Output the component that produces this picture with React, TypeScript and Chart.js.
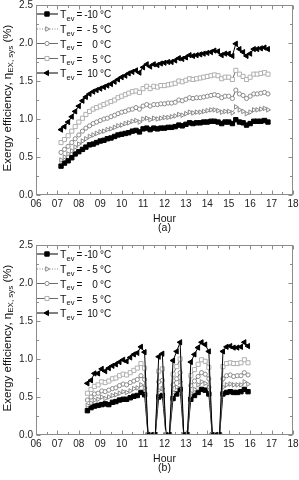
import React, { useEffect, useRef } from 'react';
import { Chart, registerables } from 'chart.js';
import { drawPoint } from 'chart.js/helpers';

Chart.register(...registerables);

const FONT = '"Liberation Sans", Arial, sans-serif';

const xTickLabels = ['06', '07', '08', '09', '10', '11', '12', '13', '14', '15', '16', '17', '18'];
const yTickLabels = ['0.0', '0.5', '1.0', '1.5', '2.0', '2.5'];
const legendValues = ['-10', '- 5', '0', '5', '10'];

// Panel (a)
const timesA = [7.17, 7.33, 7.5, 7.67, 7.83, 8.0, 8.17, 8.33, 8.5, 8.67, 8.83, 9.0, 9.17, 9.33, 9.5, 9.67, 9.83, 10.0, 10.17, 10.33, 10.5, 10.67, 10.83, 11.0, 11.17, 11.33, 11.5, 11.67, 11.83, 12.0, 12.17, 12.33, 12.5, 12.67, 12.83, 13.0, 13.17, 13.33, 13.5, 13.67, 13.83, 14.0, 14.17, 14.33, 14.5, 14.67, 14.83, 15.0, 15.17, 15.33, 15.5, 15.67, 15.83, 16.0, 16.17, 16.33, 16.5, 16.67, 16.83];
const effA_m10 = [0.38, 0.42, 0.45, 0.49, 0.54, 0.57, 0.6, 0.63, 0.66, 0.67, 0.69, 0.71, 0.72, 0.74, 0.75, 0.77, 0.79, 0.8, 0.81, 0.82, 0.84, 0.85, 0.83, 0.87, 0.88, 0.86, 0.88, 0.87, 0.88, 0.88, 0.89, 0.89, 0.9, 0.92, 0.91, 0.93, 0.95, 0.94, 0.95, 0.95, 0.96, 0.96, 0.97, 0.97, 0.96, 0.94, 0.96, 0.96, 0.94, 0.99, 0.96, 0.95, 0.92, 0.94, 0.97, 0.97, 0.97, 0.98, 0.96];
const effA_m5 = [0.46, 0.5, 0.54, 0.58, 0.63, 0.67, 0.71, 0.74, 0.77, 0.79, 0.81, 0.83, 0.84, 0.86, 0.87, 0.89, 0.91, 0.92, 0.94, 0.95, 0.97, 0.98, 0.96, 1.0, 1.01, 0.99, 1.01, 1.0, 1.01, 1.02, 1.02, 1.03, 1.04, 1.06, 1.05, 1.07, 1.09, 1.08, 1.09, 1.09, 1.1, 1.11, 1.12, 1.12, 1.11, 1.09, 1.1, 1.1, 1.08, 1.16, 1.12, 1.1, 1.07, 1.09, 1.12, 1.12, 1.13, 1.14, 1.12];
const effA_0 = [0.56, 0.6, 0.64, 0.69, 0.74, 0.79, 0.84, 0.88, 0.91, 0.94, 0.96, 0.98, 1.0, 1.01, 1.03, 1.05, 1.07, 1.09, 1.1, 1.12, 1.13, 1.15, 1.13, 1.17, 1.19, 1.17, 1.19, 1.19, 1.2, 1.2, 1.21, 1.21, 1.22, 1.25, 1.24, 1.26, 1.28, 1.27, 1.28, 1.28, 1.29, 1.3, 1.31, 1.32, 1.31, 1.28, 1.3, 1.3, 1.27, 1.38, 1.33, 1.31, 1.27, 1.3, 1.33, 1.33, 1.34, 1.35, 1.33];
const effA_p5 = [0.69, 0.73, 0.78, 0.84, 0.9, 0.96, 1.01, 1.06, 1.1, 1.13, 1.15, 1.17, 1.19, 1.21, 1.23, 1.25, 1.28, 1.3, 1.32, 1.34, 1.36, 1.37, 1.35, 1.4, 1.43, 1.4, 1.43, 1.42, 1.44, 1.44, 1.45, 1.46, 1.47, 1.5, 1.49, 1.51, 1.53, 1.52, 1.53, 1.54, 1.55, 1.56, 1.57, 1.58, 1.57, 1.53, 1.55, 1.55, 1.52, 1.64, 1.59, 1.56, 1.52, 1.55, 1.59, 1.59, 1.6, 1.61, 1.59];
const effA_p10 = [0.86, 0.9, 0.96, 1.03, 1.1, 1.17, 1.24, 1.29, 1.33, 1.36, 1.38, 1.4, 1.42, 1.44, 1.46, 1.49, 1.52, 1.55, 1.57, 1.6, 1.62, 1.64, 1.61, 1.68, 1.72, 1.69, 1.72, 1.71, 1.73, 1.74, 1.75, 1.75, 1.77, 1.8, 1.79, 1.81, 1.84, 1.83, 1.84, 1.85, 1.86, 1.87, 1.88, 1.9, 1.89, 1.84, 1.86, 1.86, 1.83, 1.99, 1.92, 1.88, 1.83, 1.86, 1.92, 1.92, 1.93, 1.94, 1.92];

// Panel (b)
const timesB = [8.4, 8.57, 8.73, 8.9, 9.07, 9.23, 9.4, 9.57, 9.73, 9.9, 10.07, 10.23, 10.4, 10.57, 10.73, 10.9, 11.07, 11.23, 11.4, 11.57, 11.73, 11.9, 12.07, 12.23, 12.4, 12.57, 12.73, 12.9, 13.07, 13.23, 13.4, 13.57, 13.73, 13.9, 14.07, 14.23, 14.4, 14.57, 14.73, 14.9, 15.07, 15.23, 15.4, 15.57, 15.73, 15.9];
const effB_m10 = [0.32, 0.36, 0.38, 0.39, 0.4, 0.41, 0.4, 0.43, 0.44, 0.46, 0.47, 0.47, 0.49, 0.51, 0.52, 0.56, 0.53, 0, 0, 0, 0.5, 0.52, 0, 0, 0.48, 0.54, 0.6, 0, 0, 0.47, 0.52, 0.56, 0.6, 0.59, 0.54, 0, 0, 0, 0.54, 0.56, 0.57, 0.56, 0.56, 0.57, 0.6, 0.57];
const effB_m5 = [0.39, 0.42, 0.46, 0.47, 0.5, 0.48, 0.5, 0.52, 0.53, 0.55, 0.57, 0.56, 0.58, 0.61, 0.62, 0.66, 0.62, 0, 0, 0, 0.59, 0.61, 0, 0, 0.56, 0.63, 0.7, 0, 0, 0.55, 0.6, 0.66, 0.7, 0.68, 0.63, 0, 0, 0, 0.63, 0.66, 0.67, 0.66, 0.66, 0.66, 0.7, 0.67];
const effB_0 = [0.46, 0.5, 0.54, 0.55, 0.58, 0.57, 0.59, 0.61, 0.62, 0.65, 0.67, 0.66, 0.69, 0.71, 0.73, 0.78, 0.73, 0, 0, 0, 0.7, 0.72, 0, 0, 0.66, 0.74, 0.82, 0, 0, 0.65, 0.71, 0.77, 0.82, 0.8, 0.74, 0, 0, 0, 0.74, 0.78, 0.79, 0.77, 0.78, 0.78, 0.82, 0.79];
const effB_p5 = [0.55, 0.6, 0.64, 0.66, 0.7, 0.69, 0.71, 0.74, 0.75, 0.78, 0.8, 0.79, 0.82, 0.85, 0.88, 0.94, 0.88, 0, 0, 0, 0.84, 0.87, 0, 0, 0.8, 0.9, 1.0, 0, 0, 0.78, 0.86, 0.93, 0.99, 0.97, 0.89, 0, 0, 0, 0.9, 0.94, 0.95, 0.94, 0.94, 0.95, 0.99, 0.95];
const effB_p10 = [0.68, 0.72, 0.81, 0.81, 0.87, 0.84, 0.88, 0.91, 0.93, 0.96, 0.99, 0.97, 1.02, 1.06, 1.08, 1.16, 1.09, 0, 0, 0, 1.03, 1.07, 0, 0, 0.98, 1.1, 1.22, 0, 0, 0.96, 1.06, 1.15, 1.22, 1.19, 1.1, 0, 0, 0, 1.1, 1.16, 1.17, 1.15, 1.15, 1.16, 1.22, 1.17];

type Style = {
  line: string; dash: number[]; pointStyle: string; radius: number; rotation: number;
  fill: string; border: string;
};
const styles: Style[] = [
  { line: '#000', dash: [], pointStyle: 'rect', radius: 3.1, rotation: 0, fill: '#000', border: '#000' },
  { line: '#8a8a8a', dash: [1, 1.5], pointStyle: 'triangle', radius: 2.6, rotation: 90, fill: '#fff', border: '#8a8a8a' },
  { line: '#6a6a6a', dash: [], pointStyle: 'circle', radius: 2.1, rotation: 0, fill: '#fff', border: '#8a8a8a' },
  { line: '#6a6a6a', dash: [], pointStyle: 'rect', radius: 2.9, rotation: 0, fill: '#fff', border: '#b0b0b0' },
  { line: '#000', dash: [], pointStyle: 'triangle', radius: 3.0, rotation: -90, fill: '#000', border: '#000' },
];

function framePlugin(panel: string) {
  return {
    id: 'frameDeco',
    afterDraw(chart: any) {
      const { ctx, chartArea: a, scales } = chart;
      const xs = scales.x, ys = scales.y;
      ctx.save();
      ctx.strokeStyle = '#8c8c8c';
      ctx.lineWidth = 1;
      const L = Math.round(a.left) + 0.5, R = Math.round(a.right) - 0.5;
      const T = Math.round(a.top) + 0.5, B = Math.round(a.bottom) - 0.5;
      ctx.strokeRect(L, T, R - L, B - T);
      ctx.beginPath();
      for (let i = 12; i <= 36; i++) {
        const px = Math.round(xs.getPixelForValue(i / 2)) + 0.5;
        const len = i % 2 === 0 ? 4 : 2.5;
        ctx.moveTo(px, B); ctx.lineTo(px, B - len);
        ctx.moveTo(px, T); ctx.lineTo(px, T + len);
      }
      for (let j = 0; j <= 10; j++) {
        const py = Math.round(ys.getPixelForValue(j / 4)) + 0.5;
        const len = j % 2 === 0 ? 4 : 2.5;
        ctx.moveTo(L, py); ctx.lineTo(L + len, py);
        ctx.moveTo(R, py); ctx.lineTo(R - len, py);
      }
      ctx.stroke();

      // tick labels (values come from the scales)
      ctx.fillStyle = '#222';
      ctx.font = `10px ${FONT}`;
      ctx.textBaseline = 'middle';
      ctx.textAlign = 'center';
      xs.ticks.forEach((t: any) => {
        const lbl = xTickLabels[Math.round(t.value) - 6];
        if (lbl) ctx.fillText(lbl, xs.getPixelForValue(t.value), a.bottom + 9);
      });
      ctx.textAlign = 'right';
      ys.ticks.forEach((t: any) => {
        const lbl = yTickLabels[Math.round(t.value * 2)];
        if (lbl) ctx.fillText(lbl, a.left - 3, ys.getPixelForValue(t.value) + 0.5);
      });

      // x title and panel label
      ctx.fillStyle = '#111';
      ctx.textAlign = 'center';
      ctx.textBaseline = 'middle';
      ctx.font = `10.5px ${FONT}`;
      const cx = (a.left + a.right) / 2;
      ctx.fillText('Hour', cx, 219);
      ctx.fillText(panel, cx, 228.5);

      // y title with subscript
      const main1 = 'Exergy efficiency, \u03B7';
      const sub = 'EX, sys';
      const main2 = ' (%)';
      const fMain = `11.5px ${FONT}`;
      const fSub = `8px ${FONT}`;
      ctx.font = fMain;
      const w1 = ctx.measureText(main1).width;
      const w3 = ctx.measureText(main2).width;
      ctx.font = fSub;
      const w2 = ctx.measureText(sub).width;
      const total = w1 + w2 + w3;
      ctx.translate(6.5, (a.top + a.bottom) / 2 - 2);
      ctx.rotate(-Math.PI / 2);
      ctx.textAlign = 'left';
      ctx.textBaseline = 'alphabetic';
      let sx = -total / 2;
      ctx.font = fMain;
      ctx.fillText(main1, sx, 4);
      sx += w1;
      ctx.font = fSub;
      ctx.fillText(sub, sx, 6.5);
      sx += w2;
      ctx.font = fMain;
      ctx.fillText(main2, sx, 4);
      ctx.setTransform(1, 0, 0, 1, 0, 0);

      // legend
      const rows = [14, 29, 43.5, 58.5, 73];
      rows.forEach((ry, k) => {
        const st = styles[k];
        ctx.strokeStyle = st.line;
        ctx.lineWidth = 1;
        ctx.setLineDash(st.dash);
        ctx.beginPath();
        ctx.moveTo(a.left + 1, ry); ctx.lineTo(58, ry);
        ctx.stroke();
        ctx.setLineDash([]);
        ctx.fillStyle = st.fill;
        ctx.strokeStyle = st.border;
        ctx.lineWidth = 1;
        drawPoint(ctx, { pointStyle: st.pointStyle as any, radius: st.radius, rotation: st.rotation, borderWidth: 1 }, 47, ry);
        ctx.fillStyle = '#111';
        ctx.textBaseline = 'alphabetic';
        ctx.textAlign = 'left';
        ctx.font = `10.5px ${FONT}`;
        ctx.fillText('T', 60, ry + 4);
        ctx.font = `7.5px ${FONT}`;
        ctx.fillText('ev', 66.5, ry + 6.5);
        ctx.font = `10px ${FONT}`;
        ctx.fillText('=', 76.5, ry + 4);
        ctx.textAlign = 'right';
        try { (ctx as any).letterSpacing = '-0.4px'; } catch (e) { /* ignore */ }
        ctx.fillText(legendValues[k], 97.5, ry + 4);
        try { (ctx as any).letterSpacing = '0px'; } catch (e) { /* ignore */ }
        ctx.textAlign = 'left';
        ctx.fillText('\u00B0C', 100, ry + 4);
      });
      ctx.restore();
    },
  };
}

function makeConfig(times: number[], series: number[][], panel: string): any {
  return {
    type: 'line',
    data: {
      datasets: series.map((vals, k) => {
        const st = styles[k];
        return {
          data: vals.map((v, i) => ({ x: times[i], y: v })),
          borderColor: st.line,
          borderWidth: 1,
          borderDash: st.dash,
          pointStyle: st.pointStyle,
          pointRadius: st.radius,
          pointRotation: st.rotation,
          pointBackgroundColor: st.fill,
          pointBorderColor: st.border,
          pointBorderWidth: 1,
          tension: 0,
          fill: false,
          order: 4 - k,
        };
      }),
    },
    options: {
      responsive: false,
      animation: false,
      devicePixelRatio: 1,
      layout: { padding: { top: 5, right: 6, left: 0, bottom: 0 } },
      plugins: { legend: { display: false }, tooltip: { enabled: false } },
      scales: {
        x: {
          type: 'linear',
          min: 6,
          max: 18,
          grid: { display: false, drawTicks: false, tickLength: 0 },
          border: { display: false },
          ticks: { stepSize: 1, display: false, autoSkip: false },
          afterFit: (s: any) => { s.height = 45; },
        },
        y: {
          min: 0,
          max: 2.5,
          grid: { display: false, drawTicks: false, tickLength: 0 },
          border: { display: false },
          ticks: { stepSize: 0.5, display: false },
          afterFit: (s: any) => { s.width = 36; },
        },
      },
    },
    plugins: [framePlugin(panel)],
  };
}

function Panel({ times, series, panel }: { times: number[]; series: number[][]; panel: string }) {
  const ref = useRef<HTMLCanvasElement | null>(null);
  useEffect(() => {
    if (!ref.current) return;
    const chart = new Chart(ref.current, makeConfig(times, series, panel));
    return () => chart.destroy();
  }, []);
  return <canvas ref={ref} width={299} height={240} style={{ display: 'block', width: 299, height: 240 }} />;
}

export default function App() {
  return (
    <div style={{ position: 'absolute', left: 0, top: 0, width: 299, height: 480, background: '#fff' }}>
      <Panel times={timesA} series={[effA_m10, effA_m5, effA_0, effA_p5, effA_p10]} panel="(a)" />
      <Panel times={timesB} series={[effB_m10, effB_m5, effB_0, effB_p5, effB_p10]} panel="(b)" />
    </div>
  );
}
